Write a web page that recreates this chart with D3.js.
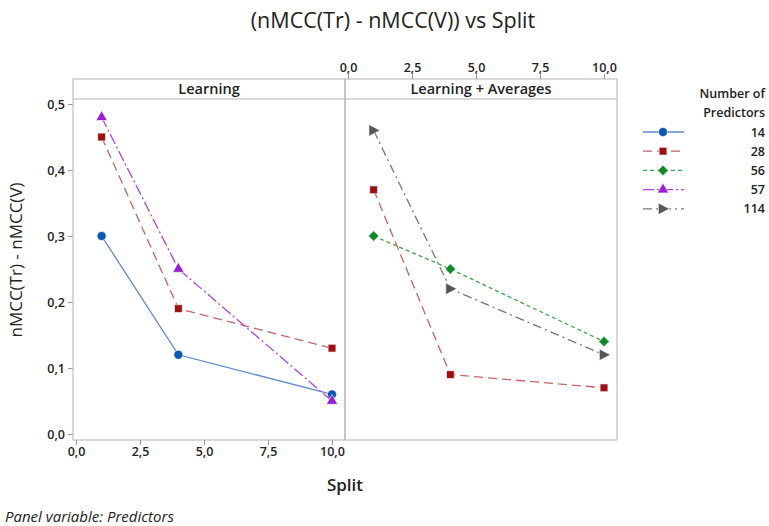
<!DOCTYPE html>
<html>
<head>
<meta charset="utf-8">
<script src="https://cdn.jsdelivr.net/npm/d3@7.9.0/dist/d3.min.js"></script>
<style>
  body { margin: 0; background: #fff; }
  svg text { font-family: "Open Sans", "Noto Sans", sans-serif; fill: #222; }
</style>
</head>
<body>
<svg id="chart" width="769" height="526"></svg>
<script>
// data
const panels = ['Learning', 'Learning + Averages'];
const splits = [1, 4, 10];
const predictors = ['14', '28', '56', '57', '114'];

// values per panel, per predictor count
const learning = {
  '14': [0.30, 0.12, 0.06],
  '28': [0.45, 0.19, 0.13],
  '57': [0.48, 0.25, 0.05],
};
const learningAvg = {
  '28': [0.37, 0.09, 0.07],
  '56': [0.30, 0.25, 0.14],
  '114': [0.46, 0.22, 0.12],
};
const xTicks = [0, 2.5, 5, 7.5, 10];
const yTicks = [0, 0.1, 0.2, 0.3, 0.4, 0.5];

const styles = {
  '14':  { line: '#6189cc', mark: '#0b58b0', dash: null,        sym: d3.symbolCircle,   size: 64 },
  '28':  { line: '#c46464', mark: '#9a1214', dash: '9,5',       sym: d3.symbolSquare,   size: 60 },
  '56':  { line: '#3fa84a', mark: '#0e8a2a', dash: '4,3',       sym: 'diamond',         size: 60 },
  '57':  { line: '#b043df', mark: '#9a1fd0', dash: '11,3,2,3',  sym: d3.symbolTriangle, size: 56 },
  '114': { line: '#777777', mark: '#555555', dash: '9,4,2,4',   sym: 'right',           size: 60 },
};

const svg = d3.select('#chart');
const loc = d3.formatLocale({ decimal: ',', thousands: '.', grouping: [3], currency: ['', ''] });
const f1 = loc.format('.1f');

const frameTop = 79, stripH = 20, frameBottom = 440;
const panelX = [73, 345], panelW = 272;

const y = d3.scaleLinear().domain([0, 0.5]).range([434, 104]);

// title
svg.append('text').attr('x', 393).attr('y', 28).attr('text-anchor', 'middle')
  .style('font-size', '21.5px').text('(nMCC(Tr) - nMCC(V)) vs Split');

function styleTicks(sel) {
  sel.select('.domain').remove();
  sel.selectAll('line').attr('stroke', '#999');
  sel.selectAll('text').style('font-size', '12.5px').style('font-weight', '600')
    .style('font-family', '"Open Sans", sans-serif').attr('fill', '#333');
}

// y axis
svg.append('g').attr('transform', `translate(${panelX[0]},0)`)
  .call(d3.axisLeft(y).tickValues(yTicks).tickFormat(f1).tickSize(5).tickPadding(3))
  .call(styleTicks);

svg.append('text').attr('transform', 'translate(22,260) rotate(-90)')
  .attr('text-anchor', 'middle').style('font-size', '17px').style('font-weight', '500')
  .text('nMCC(Tr) - nMCC(V)');

const lineGen = (x) => d3.line().x((d) => x(d[0])).y((d) => y(d[1]));

function marker(st) {
  const s = Math.sqrt(st.size) / 2;
  if (st.sym === 'right') {
    const r = s * 1.5;
    return `M${-r * 0.8},${-r}L${r * 1.1},0L${-r * 0.8},${r}Z`;
  }
  if (st.sym === 'diamond') {
    const r = s * 1.35;
    return `M0,${-r}L${r},0L0,${r}L${-r},0Z`;
  }
  return d3.symbol(st.sym, st.size)();
}

panels.forEach((name, i) => {
  const left = panelX[i];
  const x = d3.scaleLinear().domain([0, 10]).range([left + 3, left + 259]);
  const g = svg.append('g');

  // frame + strip
  g.append('rect').attr('x', left).attr('y', frameTop).attr('width', panelW).attr('height', frameBottom - frameTop)
    .attr('fill', 'none').attr('stroke', '#b4b4b4');
  g.append('line').attr('x1', left).attr('x2', left + panelW).attr('y1', frameTop + stripH).attr('y2', frameTop + stripH)
    .attr('stroke', '#b4b4b4');
  g.append('text').attr('x', left + panelW / 2).attr('y', frameTop + 15).attr('text-anchor', 'middle')
    .style('font-size', '14.5px').style('font-weight', '600').text(name);

  // x axis: bottom for first panel, top for second
  const ax = i === 0
    ? d3.axisBottom(x).tickValues(xTicks).tickFormat(f1).tickSize(5).tickPadding(2)
    : d3.axisTop(x).tickValues(xTicks).tickFormat(f1).tickSize(5).tickPadding(2);
  svg.append('g').attr('transform', `translate(0,${i === 0 ? frameBottom : frameTop})`)
    .call(ax).call(styleTicks);

  const data = i === 0 ? learning : learningAvg;
  Object.keys(data).forEach((k) => {
    const st = styles[k];
    const pts = splits.map((s, j) => [s, data[k][j]]);
    g.append('path').attr('d', lineGen(x)(pts)).attr('fill', 'none')
      .attr('stroke', st.line).attr('stroke-width', 1.3)
      .attr('stroke-dasharray', st.dash);
    g.selectAll(null).data(pts).enter().append('path')
      .attr('transform', (d) => `translate(${x(d[0])},${y(d[1])})`)
      .attr('d', marker(st))
      .attr('fill', st.mark).attr('stroke', '#fff').attr('stroke-width', 0.6);
  });
});

// axis title + footer
svg.append('text').attr('x', 345).attr('y', 491).attr('text-anchor', 'middle')
  .style('font-size', '17px').style('font-weight', '600').text('Split');
svg.append('text').attr('x', 5).attr('y', 522).style('font-size', '15px').style('font-style', 'italic')
  .text('Panel variable: Predictors');

// legend
const lg = svg.append('g');
lg.append('text').attr('x', 765).attr('y', 98).attr('text-anchor', 'end')
  .style('font-size', '12.5px').style('font-weight', '600').text('Number of');
lg.append('text').attr('x', 765).attr('y', 117).attr('text-anchor', 'end')
  .style('font-size', '12.5px').style('font-weight', '600').text('Predictors');
predictors.forEach((k, i) => {
  const st = styles[k];
  const cy = 132 + i * 19.2;
  lg.append('line').attr('x1', 643).attr('x2', 684).attr('y1', cy).attr('y2', cy)
    .attr('stroke', st.line).attr('stroke-width', 1.3).attr('stroke-dasharray', st.dash);
  lg.append('path').attr('transform', `translate(663,${cy})`)
    .attr('d', marker(st))
    .attr('fill', st.mark).attr('stroke', '#fff').attr('stroke-width', 0.6);
  lg.append('text').attr('x', 765).attr('y', cy + 4.5).attr('text-anchor', 'end')
    .style('font-size', '12.5px').style('font-weight', '600').text(k);
});
</script>
</body>
</html>
